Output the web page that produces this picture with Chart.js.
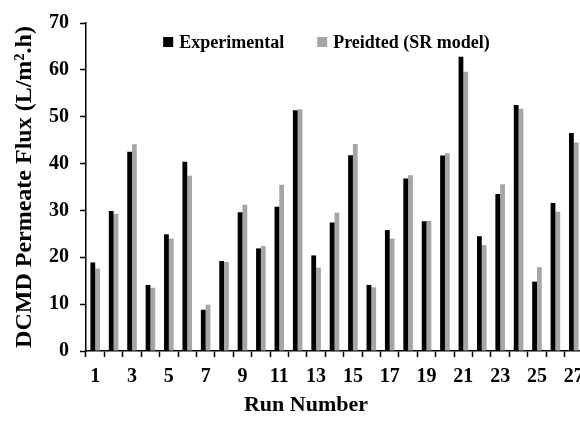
<!DOCTYPE html>
<html>
<head>
<meta charset="utf-8">
<script src="https://cdn.jsdelivr.net/npm/chart.js@4.4.1/dist/chart.umd.min.js"></script>
<style>
  html, body { margin: 0; padding: 0; background: #fff; overflow: hidden; }
  #wrap { position: relative; width: 580px; height: 421px; overflow: hidden; }
  #box { position: absolute; left: 0; top: 0; width: 600px; height: 421px; }
</style>
</head>
<body>
<div id="wrap"><div id="box"><canvas id="c" width="600" height="421"></canvas></div></div>
<script>
const runNumbers = ["1","2","3","4","5","6","7","8","9","10","11","12","13","14","15","16","17","18","19","20","21","22","23","24","25","26","27"];
const experimental = [18.9, 29.9, 42.5, 14.1, 24.9, 40.4, 8.8, 19.2, 29.6, 21.9, 30.8, 51.4, 20.4, 27.4, 41.8, 14.1, 25.8, 36.8, 27.7, 41.7, 62.8, 24.5, 33.5, 52.5, 14.8, 31.6, 46.5];
const predicted = [17.6, 29.3, 44.1, 13.5, 24.0, 37.4, 9.9, 19.0, 31.2, 22.4, 35.5, 51.6, 17.8, 29.5, 44.2, 13.6, 24.0, 37.5, 27.8, 42.2, 59.6, 22.6, 35.6, 51.7, 17.9, 29.7, 44.5];
const seriesNames = ["Experimental", "Preidted (SR model)"];
const yAxisTitle = "DCMD Permeate Flux (L/m\u00B2.h)";
const xAxisTitle = "Run Number";

const FONT = "'Liberation Serif', 'Times New Roman', serif";

const overlayText = {
  id: 'overlayText',
  afterDraw(chart) {
    const ctx = chart.ctx;
    const ca = chart.chartArea;
    ctx.save();
    // legend
    ctx.font = "bold 18px " + FONT;
    ctx.textBaseline = 'middle';
    ctx.textAlign = 'left';
    const box = 10, gapText = 6, gapItem = 33;
    const items = chart.data.datasets.map(d => ({ label: d.label, color: d.backgroundColor, w: ctx.measureText(d.label).width }));
    let total = 0;
    items.forEach((it, i) => { total += box + gapText + it.w + (i < items.length - 1 ? gapItem : 0); });
    let x = (ca.left + ca.right) / 2 - 8 - total / 2;
    const y = ca.top + 19;
    items.forEach(it => {
      ctx.fillStyle = it.color;
      ctx.fillRect(x, y - box / 2, box, box);
      x += box + gapText;
      ctx.fillStyle = '#000';
      ctx.fillText(it.label, x, y + 1);
      x += it.w + gapItem;
    });
    // x axis title
    ctx.font = "bold 22px " + FONT;
    ctx.textAlign = 'center';
    ctx.fillStyle = '#000';
    ctx.fillText(xAxisTitle, ca.left + 220, ca.bottom + 54);
    ctx.restore();
  }
};

new Chart(document.getElementById('c'), {
  type: 'bar',
  data: {
    labels: runNumbers,
    datasets: [
      { label: seriesNames[0], data: experimental, backgroundColor: '#000000', categoryPercentage: 0.52, barPercentage: 1.0 },
      { label: seriesNames[1], data: predicted, backgroundColor: '#a6a6a6', categoryPercentage: 0.52, barPercentage: 1.0 }
    ]
  },
  options: {
    responsive: false,
    animation: false,
    layout: { padding: { top: 19, right: 17, bottom: 30, left: 0 } },
    plugins: { legend: { display: false }, tooltip: { enabled: false }, title: { display: false } },
    scales: {
      x: {
        offset: true,
        grid: { display: true, drawOnChartArea: false, drawTicks: true, tickLength: 6, tickWidth: 1.5, tickColor: '#000', offset: true },
        border: { display: true, color: '#000', width: 1.5 },
        ticks: {
          autoSkip: false, maxRotation: 0, minRotation: 0, padding: 8, color: '#000',
          font: { family: FONT, size: 20, weight: 'bold' },
          callback: function (v, i) { return i % 2 === 0 ? this.getLabelForValue(v) : ''; }
        },
        afterFit(scale) { scale.height = 40; }
      },
      y: {
        min: 0, max: 70,
        grid: { display: true, drawOnChartArea: false, drawTicks: true, tickLength: 6, tickWidth: 1.5, tickColor: '#000' },
        border: { display: true, color: '#000', width: 1.5 },
        ticks: { stepSize: 10, padding: 11, color: '#000', font: { family: FONT, size: 20, weight: 'bold' } },
        title: { display: true, text: yAxisTitle, color: '#000', padding: { top: 10, bottom: 0 }, font: { family: FONT, size: 24, weight: 'bold' } },
        afterFit(scale) { scale.width = 86; }
      }
    }
  },
  plugins: [overlayText]
});
</script>
</body>
</html>
